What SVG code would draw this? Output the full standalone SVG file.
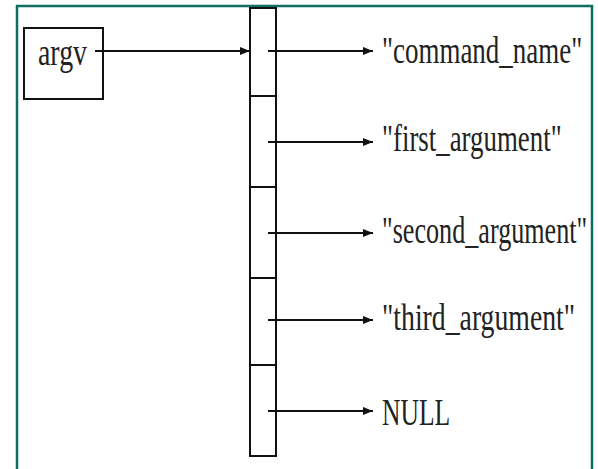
<svg xmlns="http://www.w3.org/2000/svg" width="598" height="469" viewBox="0 0 598 469">
  <style>
    .box { fill: #ffffff; stroke: #111111; stroke-width: 2; }
    .line { fill: none; stroke: #111111; stroke-width: 2; }
    .lbl { font-family: "Liberation Serif", "DejaVu Serif", serif; font-size: 38px; fill: #222222; }
    .frame { fill: none; stroke: #0e6e60; stroke-width: 2.5; }
  </style>
  <defs>
    <marker id="arr" viewBox="0 0 10 8" refX="10" refY="4" markerWidth="10" markerHeight="8" markerUnits="userSpaceOnUse" orient="auto">
      <path d="M0,0 L10,4 L0,8 z" fill="#111111"/>
    </marker>
  </defs>
  <rect x="0" y="0" width="598" height="469" fill="#ffffff"/>
  <path class="frame" d="M17,469 L17,6 L592,6 L592,469"/>

  <g id="argv">
    <rect class="box" x="24" y="28" width="79" height="71"/>
    <text class="lbl" transform="translate(38,65) scale(0.71,1)" x="0" y="0" textLength="69" lengthAdjust="spacingAndGlyphs">argv</text>
  </g>

  <g id="array">
    <rect class="box" x="250" y="8" width="26" height="448"/>
    <line class="line" x1="250" y1="96" x2="276" y2="96"/>
    <line class="line" x1="250" y1="187" x2="276" y2="187"/>
    <line class="line" x1="250" y1="278" x2="276" y2="278"/>
    <line class="line" x1="250" y1="365" x2="276" y2="365"/>
  </g>

  <g id="connectors">
    <line class="line" x1="95" y1="51" x2="250" y2="51" marker-end="url(#arr)"/>
    <line class="line" x1="268" y1="51" x2="373" y2="51" marker-end="url(#arr)"/>
    <line class="line" x1="268" y1="142" x2="373" y2="142" marker-end="url(#arr)"/>
    <line class="line" x1="268" y1="233" x2="373" y2="233" marker-end="url(#arr)"/>
    <line class="line" x1="268" y1="320" x2="373" y2="320" marker-end="url(#arr)"/>
    <line class="line" x1="268" y1="411" x2="373" y2="411" marker-end="url(#arr)"/>
  </g>

  <g id="label-command-name">
    <text class="lbl" transform="translate(382,63) scale(0.71,1)" x="0" y="0" textLength="282" lengthAdjust="spacingAndGlyphs">"command_name"</text>
  </g>
  <g id="label-first-argument">
    <text class="lbl" transform="translate(382,151) scale(0.71,1)" x="0" y="0" textLength="253" lengthAdjust="spacingAndGlyphs">"first_argument"</text>
  </g>
  <g id="label-second-argument">
    <text class="lbl" transform="translate(382,243) scale(0.71,1)" x="0" y="0" textLength="289" lengthAdjust="spacingAndGlyphs">"second_argument"</text>
  </g>
  <g id="label-third-argument">
    <text class="lbl" transform="translate(382,330) scale(0.71,1)" x="0" y="0" textLength="272" lengthAdjust="spacingAndGlyphs">"third_argument"</text>
  </g>
  <g id="label-null">
    <text class="lbl" transform="translate(382,425) scale(0.71,1)" x="0" y="0" textLength="96" lengthAdjust="spacingAndGlyphs">NULL</text>
  </g>
</svg>
